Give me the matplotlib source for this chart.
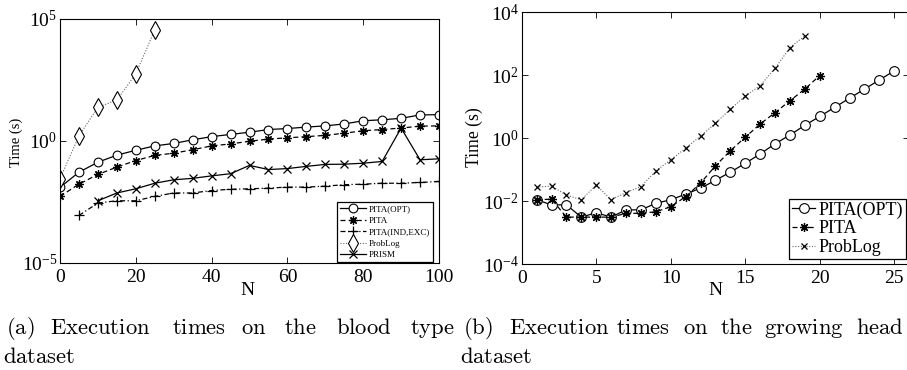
import matplotlib
matplotlib.use('Agg')
import matplotlib.pyplot as plt
from matplotlib.ticker import NullLocator

plt.rcParams['font.family'] = ['Liberation Serif', 'DejaVu Serif']
plt.rcParams['mathtext.fontset'] = 'custom'
plt.rcParams['mathtext.rm'] = 'Liberation Serif'
plt.rcParams['mathtext.it'] = 'Liberation Serif:italic'
plt.rcParams['mathtext.bf'] = 'Liberation Serif:bold'

# ---------------- data: (a) blood type ----------------
N_blood = [0, 5, 10, 15, 20, 25, 30, 35, 40, 45, 50, 55, 60, 65, 70, 75, 80, 85, 90, 95, 100]
blood_pita_opt = [0.0126, 0.0525, 0.135, 0.263, 0.417, 0.631, 0.794, 1.12, 1.51, 1.86, 2.29,
                  2.95, 3.24, 3.72, 4.17, 5.01, 6.76, 7.41, 8.51, 11.7, 12.0]
blood_pita = [0.00537, 0.0170, 0.0427, 0.0851, 0.158, 0.257, 0.316, 0.437, 0.631, 0.759, 0.977,
              1.20, 1.35, 1.51, 1.70, 2.09, 2.63, 2.95, 3.39, 4.07, 4.17]
N_blood_ind = [5, 10, 15, 20, 25, 30, 35, 40, 45, 50, 55, 60, 65, 70, 75, 80, 85, 90, 95, 100]
blood_pita_ind = [0.000891, 0.00288, 0.00355, 0.00355, 0.00537, 0.00741, 0.00741, 0.00933, 0.0105,
                  0.0110, 0.0117, 0.0129, 0.0129, 0.0141, 0.0162, 0.0170, 0.0186, 0.0186, 0.0200, 0.0219]
N_blood_problog = [0, 5, 10, 15, 20, 25]
blood_problog = [0.0282, 1.62, 24.0, 47.9, 562, 35500]
N_blood_prism = [10, 15, 20, 25, 30, 35, 40, 45, 50, 55, 60, 65, 70, 75, 80, 85, 90, 95, 100]
blood_prism = [0.00355, 0.00741, 0.0110, 0.0186, 0.0257, 0.0295, 0.0372, 0.0457, 0.100, 0.0676,
               0.0741, 0.0912, 0.110, 0.112, 0.123, 0.145, 3.39, 0.170, 0.186]
blood_xticks = [0, 20, 40, 60, 80, 100]
blood_yticks = [1e-5, 1e0, 1e5]

# ---------------- data: (b) growing head ----------------
N_head_opt = list(range(1, 26))
head_pita_opt = [0.0110, 0.00759, 0.00759, 0.00309, 0.00427, 0.00309, 0.00525, 0.00525, 0.00851,
                 0.0110, 0.0166, 0.0257, 0.0457, 0.0832, 0.158, 0.316, 0.661, 1.26, 2.57, 4.90,
                 9.55, 18.6, 36.3, 70.8, 138]
N_head_pita = list(range(1, 21))
head_pita = [0.0110, 0.0115, 0.00309, 0.00309, 0.00309, 0.00309, 0.00407, 0.00407, 0.00457, 0.00661,
             0.0138, 0.0372, 0.132, 0.398, 1.07, 2.82, 6.46, 15.5, 36.3, 97.7]
N_head_problog = list(range(1, 20))
head_problog = [0.0275, 0.0302, 0.0155, 0.0110, 0.0324, 0.0110, 0.0186, 0.0288, 0.0912, 0.204,
                0.479, 1.17, 2.95, 8.32, 21.9, 46.8, 166, 759, 1780]
head_xticks = [0, 5, 10, 15, 20, 25]
head_yticks = [1e-4, 1e-2, 1e0, 1e2, 1e4]

caption_a = ['(a)', 'Execution', 'times', 'on', 'the', 'blood', 'type']
caption_b = ['(b)', 'Execution', 'times', 'on', 'the', 'growing', 'head']
caption_line2 = 'dataset'

# ---------------- figure ----------------
W, H = 907, 370
fig = plt.figure(figsize=(W / 100, H / 100), dpi=100)


def px_axes(x0, y0, x1, y1):
    return fig.add_axes([x0 / W, 1 - y1 / H, (x1 - x0) / W, (y1 - y0) / H])


ax1 = px_axes(60, 19, 439, 263)
ax2 = px_axes(521.7, 12.3, 909.2, 264)

lw = 0.9
ax1.plot(N_blood, blood_pita_opt, color='k', ls='-', lw=lw, marker='o', ms=6.3,
         mfc='white', mec='k', mew=0.8, label='PITA(OPT)')
ax1.plot(N_blood, blood_pita, color='k', ls=(0, (4, 2.5)), lw=lw, marker=(8, 2, 0), ms=6,
         mec='k', mew=0.9, label='PITA')
ax1.plot(N_blood_ind, blood_pita_ind, color='k', ls=(0, (4, 2, 1, 2)), lw=lw, marker='+', ms=7,
         mec='k', mew=0.9, label='PITA(IND,EXC)')
ax1.plot(N_blood_problog, blood_problog, color='0.4', ls=(0, (1, 1.5)), lw=0.8, marker='d', ms=9,
         mfc='white', mec='k', mew=0.8, label='ProbLog')
ax1.plot(N_blood_prism, blood_prism, color='k', ls='-', lw=lw, marker='x', ms=5.5,
         mec='k', mew=0.9, label='PRISM')

ax2.plot(N_head_opt, head_pita_opt, color='k', ls='-', lw=lw, marker='o', ms=7,
         mfc='white', mec='k', mew=0.8, label='PITA(OPT)')
ax2.plot(N_head_pita, head_pita, color='k', ls=(0, (4, 2.5)), lw=lw, marker=(8, 2, 0), ms=6.5,
         mec='k', mew=0.9, label='PITA')
ax2.plot(N_head_problog, head_problog, color='0.4', ls=(0, (1, 1.5)), lw=0.8, marker='x', ms=4.8,
         mec='k', mew=0.9, label='ProbLog')

for ax in (ax1, ax2):
    ax.set_yscale('log')
    ax.yaxis.set_minor_locator(NullLocator())
    ax.tick_params(which='both', direction='in', top=True, right=True, length=4, width=0.6,
                   labelsize=14, colors='k')
    ax.tick_params(axis='x', pad=4)
    ax.tick_params(axis='y', pad=2)
    for s in ax.spines.values():
        s.set_linewidth(0.8)

ax1.set_xlim(0, 100)
ax1.set_ylim(1e-5, 1e5)
ax1.set_xticks(blood_xticks)
ax1.set_yticks(blood_yticks)
ax1.yaxis.set_minor_locator(NullLocator())

ax2.set_xlim(0, 26)
ax2.set_ylim(1e-4, 1e4)
ax2.set_xticks(head_xticks)
ax2.set_yticks(head_yticks)
ax2.yaxis.set_minor_locator(NullLocator())

ax1.set_ylabel('Time (s)', fontsize=10.5)
ax1.yaxis.set_label_coords(-0.0976, 0.494)
ax1.set_xlabel('N', fontsize=14)
ax1.xaxis.set_label_coords(0.4934, -0.078)

ax2.set_ylabel('Time (s)', fontsize=12.7)
ax2.yaxis.set_label_coords(-0.0999, 0.5046)
ax2.set_xlabel('N', fontsize=14)
ax2.xaxis.set_label_coords(0.4988, -0.0715)

leg1 = ax1.legend(loc='lower right', bbox_to_anchor=(0.984, 0.004), borderaxespad=0,
                  fontsize=6.5, handlelength=2.9, handletextpad=0.3, labelspacing=0.35,
                  borderpad=0.3, fancybox=False, framealpha=1, edgecolor='k')
leg1.get_frame().set_linewidth(0.9)

leg2 = ax2.legend(loc='lower right', bbox_to_anchor=(0.992, 0.02), borderaxespad=0,
                  fontsize=13, handlelength=1.3, handletextpad=0.2, labelspacing=0.1,
                  borderpad=0.15, fancybox=False, framealpha=1, edgecolor='k')
leg2.get_frame().set_linewidth(0.9)

# captions (Computer Modern via mathtext), words placed by centre (justified line)
ca = [20.2, 100.4, 199, 254, 300.2, 363.8, 432.7]
cb = [477.8, 559.6, 643.5, 696, 736, 804]
for words, xs in ((caption_a, ca), (caption_b, cb)):
    for w, x in zip(words, xs):
        fig.text(x / W, 1 - 334 / H, r'$\mathrm{' + w + '}$', math_fontfamily='cm',
                 fontsize=16.3, va='baseline', ha='center')
fig.text(856 / W, 1 - 334 / H, r'$\mathrm{' + caption_b[-1] + '}$', math_fontfamily='cm',
         fontsize=16.3, va='baseline', ha='left')
for x in (3, 460):
    fig.text(x / W, 1 - 363 / H, r'$\mathrm{' + caption_line2 + '}$', math_fontfamily='cm',
             fontsize=16.3, va='baseline', ha='left')

fig.savefig('out.png', dpi=100)
